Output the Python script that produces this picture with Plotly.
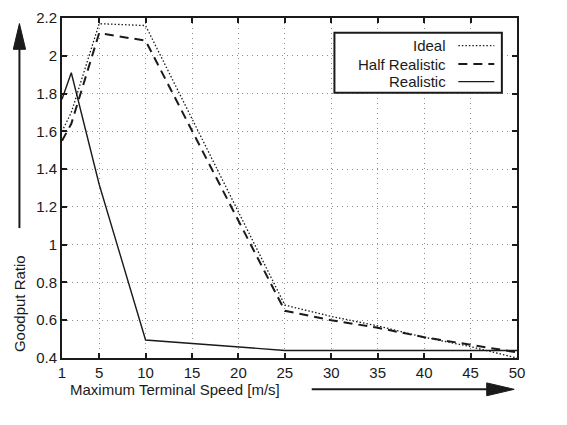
import plotly.graph_objects as go

# data
speed = [1, 2, 5, 10, 25, 30, 35, 40, 45, 50]
ideal = [1.60, 1.70, 2.17, 2.16, 0.68, 0.62, 0.57, 0.51, 0.46, 0.40]
half_realistic = [1.55, 1.64, 2.12, 2.08, 0.65, 0.60, 0.56, 0.51, 0.47, 0.43]
realistic = [1.77, 1.91, 1.32, 0.495, 0.44, 0.44, 0.44, 0.44, 0.44, 0.44]

series_names = ["Ideal", "Half Realistic", "Realistic"]
x_ticks = [1, 5, 10, 15, 20, 25, 30, 35, 40, 45, 50]

FONT = "Liberation Sans, Arial, Helvetica, sans-serif"
INK = "#1a1a1a"

# measurements were taken on a 600x450 copy; plot box there was x 66..547, y 10..379
W, H = 567, 425
S = W / 600.0
X0, X1, Y0, Y1 = 66, 547, 10, 379
margin = dict(l=round(X0 * S), r=round((600 - X1) * S), t=round(Y0 * S), b=round((450 - Y1) * S))


def px(x):
    return (x - X0) / (X1 - X0)


def py(y):
    return (Y1 - y) / (Y1 - Y0)


FS = 15

styles = [
    dict(dash="1.5px,2px", width=1.3),
    dict(dash="9px,6px", width=2),
    dict(dash="solid", width=1.4),
]

fig = go.Figure()
for name, ys, st in zip(series_names, [ideal, half_realistic, realistic], styles):
    fig.add_trace(go.Scatter(
        x=speed, y=ys, mode="lines", name=name, showlegend=False,
        line=dict(color=INK, width=st["width"], dash=st["dash"]),
    ))

axis_common = dict(
    showline=True, linecolor=INK, linewidth=2, mirror="ticks",
    ticks="inside", ticklen=5, tickwidth=2, tickcolor=INK,
    showgrid=True, gridcolor="#8c8c8c", griddash="1px,4px", gridwidth=1,
    zeroline=False,
    tickfont=dict(family=FONT, size=FS, color=INK),
)

fig.update_xaxes(range=[1, 50], tickvals=x_ticks, **axis_common)
fig.update_yaxes(range=[0.4, 2.2], dtick=0.2, tick0=0.4, **axis_common)

shapes = []
annotations = []

# x-axis title + arrow
annotations.append(dict(
    x=px(72), y=py(413), xref="paper", yref="paper", xanchor="left", yanchor="middle",
    text="Maximum Terminal Speed [m/s]", showarrow=False,
    font=dict(family=FONT, size=FS, color=INK),
))
shapes.append(dict(type="line", xref="paper", yref="paper",
                   x0=px(330), x1=px(520), y0=py(413), y1=py(413),
                   line=dict(color=INK, width=2)))
shapes.append(dict(type="path", xref="paper", yref="paper",
                   path=f"M {px(515)} {py(406)} L {px(544)} {py(413)} L {px(515)} {py(420)} Z",
                   fillcolor=INK, line=dict(color=INK, width=1)))

# y-axis title + arrow
annotations.append(dict(
    x=px(21), y=py(320), xref="paper", yref="paper", xanchor="center", yanchor="middle",
    text="Goodput Ratio", textangle=-90, showarrow=False,
    font=dict(family=FONT, size=FS, color=INK),
))
shapes.append(dict(type="line", xref="paper", yref="paper",
                   x0=px(21), x1=px(21), y0=py(238), y1=py(40),
                   line=dict(color=INK, width=2)))
shapes.append(dict(type="path", xref="paper", yref="paper",
                   path=f"M {px(14.5)} {py(44)} L {px(21)} {py(16)} L {px(27.5)} {py(44)} Z",
                   fillcolor=INK, line=dict(color=INK, width=1)))

# legend box drawn by hand (gnuplot style: text right, sample on the right)
shapes.append(dict(type="rect", xref="paper", yref="paper",
                   x0=px(354), x1=px(531), y0=py(91), y1=py(26),
                   fillcolor="white", line=dict(color=INK, width=2), layer="above"))
rows = [40, 60, 79]
for name, st, ry in zip(series_names, styles, rows):
    annotations.append(dict(
        x=px(474), y=py(ry), xref="paper", yref="paper", xanchor="right", yanchor="middle",
        text=name, showarrow=False, font=dict(family=FONT, size=FS, color=INK),
    ))
    shapes.append(dict(type="line", xref="paper", yref="paper",
                       x0=px(485), x1=px(523), y0=py(ry), y1=py(ry),
                       line=dict(color=INK, width=st["width"], dash=st["dash"]), layer="above"))

fig.update_layout(
    width=W, height=H,
    margin=margin,
    plot_bgcolor="white", paper_bgcolor="white",
    font=dict(family=FONT, size=FS, color=INK),
    shapes=shapes, annotations=annotations,
    showlegend=False,
)

# page body has a default 8px margin; drop it so the figure fills the window
fig.write_html("out.html", config={"displayModeBar": False},
               post_script="document.body.style.margin='0';")
